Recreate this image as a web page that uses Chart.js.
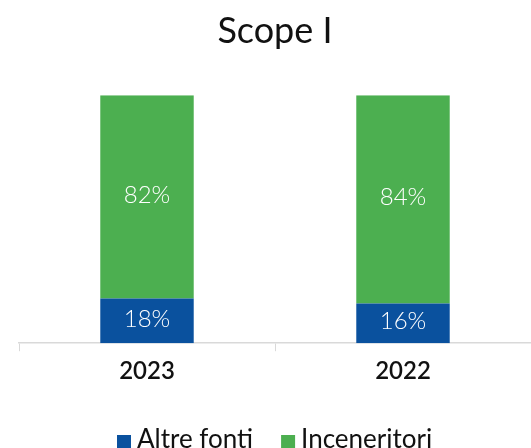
<!DOCTYPE html>
<html>
<head>
<meta charset="utf-8">
<script src="https://cdn.jsdelivr.net/npm/chart.js@4.4.0/dist/chart.umd.min.js"></script>
<style>
  html, body { margin: 0; padding: 0; background: #fff; overflow: hidden; }
  #chart { display: block; }
</style>
</head>
<body>
<canvas id="chart" width="531" height="448"></canvas>
<script>
// Scope I — quota emissioni per fonte
const years = ['2023', '2022'];
const altreFonti = [18, 16];
const inceneritori = [82, 84];

const BLUE  = '#0a519e';
const GREEN = '#4caf50';
const FONT  = "Lato, 'Noto Sans', sans-serif";

// white % labels in the middle of each bar
const barLabels = {
  id: 'barLabels',
  afterDatasetsDraw(chart) {
    const { ctx } = chart;
    ctx.save();
    ctx.fillStyle = '#fff';
    ctx.font = `300 24px ${FONT}`;
    ctx.textAlign = 'center';
    ctx.textBaseline = 'middle';
    chart.data.datasets.forEach((ds, i) => {
      chart.getDatasetMeta(i).data.forEach((bar, j) => {
        const mid = (bar.y + bar.base) / 2 - 2;
        ctx.fillText(ds.data[j] + '%', bar.x, mid);
      });
    });
    ctx.restore();
  },
};

// legend drawn by hand: small square, tight gap, bottom row half cut off
const bottomLegend = {
  id: 'bottomLegend',
  afterDraw(chart) {
    const { ctx } = chart;
    const y = 440, box = 14, gap = 6, itemGap = 28;
    ctx.save();
    ctx.font = `400 26px ${FONT}`;
    ctx.textBaseline = 'middle';
    let x = 117;
    chart.data.datasets.forEach(ds => {
      ctx.fillStyle = ds.backgroundColor;
      ctx.fillRect(x, y - box / 2 + 2, box, box);
      x += box + gap;
      ctx.fillStyle = '#111';
      ctx.fillText(ds.label, x, y);
      x += ctx.measureText(ds.label).width + itemGap;
    });
    ctx.restore();
  },
};

new Chart(document.getElementById('chart'), {
  type: 'bar',
  data: {
    labels: years,
    datasets: [
      { label: 'Altre fonti', data: altreFonti, backgroundColor: BLUE },
      { label: 'Inceneritori', data: inceneritori, backgroundColor: GREEN },
    ],
  },
  options: {
    responsive: false,
    animation: false,
    datasets: { bar: { categoryPercentage: 1, barPercentage: 0.365 } },
    layout: { padding: { left: 19, right: 0, top: 0, bottom: 56 } },
    plugins: {
      title: {
        display: true,
        text: 'Scope I',
        color: '#111',
        font: { family: FONT, size: 36, weight: '400' },
        padding: { top: 10, bottom: 42 },
      },
      legend: { display: false },
      tooltip: { enabled: false },
    },
    scales: {
      x: {
        stacked: true,
        grid: {
          offset: true,
          drawOnChartArea: false,
          drawTicks: true,
          tickLength: 8,
          color: '#d9d9d9',
        },
        border: { color: '#d9d9d9', width: 1.5 },
        ticks: {
          color: '#111',
          font: { family: FONT, size: 24, weight: '600' },
          padding: 6,
        },
      },
      y: {
        stacked: true,
        display: false,
        min: 0,
        max: 100,
      },
    },
  },
  plugins: [barLabels, bottomLegend],
});
</script>
</body>
</html>
